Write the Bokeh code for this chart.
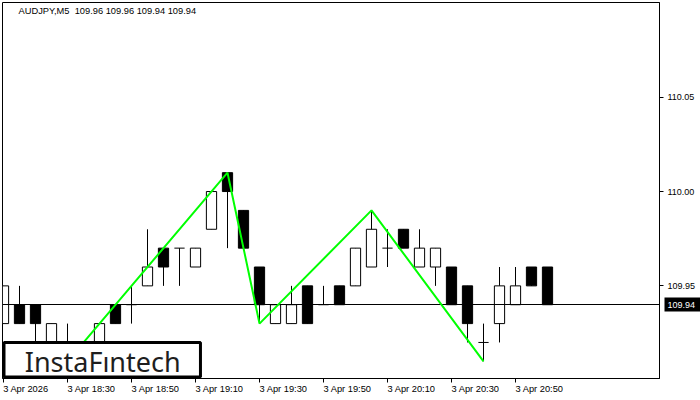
import numpy as np
from bokeh.plotting import figure
from bokeh.models import (Range1d, LinearAxis, FixedTicker, Label, BoxAnnotation,
                          PrintfTickFormatter, CustomJSTickFormatter)
from bokeh.embed import file_html
from bokeh.resources import INLINE

# ---------------- data ----------------
title_text = "AUDJPY,M5\u00a0 109.96 109.96 109.94 109.94"
times = ["18:10", "18:15", "18:20", "18:25", "18:30", "18:35", "18:40", "18:45", "18:50",
         "18:55", "19:00", "19:05", "19:10", "19:15", "19:20", "19:25", "19:30", "19:35",
         "19:40", "19:45", "19:50", "19:55", "20:00", "20:05", "20:10", "20:15", "20:20",
         "20:25", "20:30", "20:35", "20:40", "20:45", "20:50", "20:55", "21:00"]
opens = [109.93, 109.94, 109.94, 109.92, 109.92, 109.92, 109.92, 109.94, 109.94,
         109.95, 109.97, 109.97, 109.96, 109.98, 110.01, 109.99, 109.96, 109.93,
         109.93, 109.95, 109.94, 109.95, 109.95, 109.96, 109.97, 109.98, 109.96,
         109.96, 109.96, 109.95, 109.92, 109.93, 109.94, 109.96, 109.96]
highs = [109.95, 109.95, 109.94, 109.93, 109.93, 109.92, 109.93, 109.94, 109.95,
         109.98, 109.97, 109.97, 109.97, 110.00, 110.01, 109.99, 109.96, 109.94,
         109.95, 109.95, 109.95, 109.95, 109.97, 109.99, 109.98, 109.98, 109.98,
         109.97, 109.96, 109.95, 109.93, 109.96, 109.96, 109.96, 109.96]
lows = [109.93, 109.93, 109.92, 109.92, 109.91, 109.90, 109.91, 109.93, 109.93,
        109.95, 109.95, 109.95, 109.96, 109.98, 109.97, 109.97, 109.93, 109.93,
        109.93, 109.93, 109.94, 109.94, 109.95, 109.96, 109.96, 109.97, 109.96,
        109.95, 109.94, 109.92, 109.91, 109.92, 109.94, 109.95, 109.94]
closes = [109.95, 109.93, 109.93, 109.93, 109.92, 109.91, 109.93, 109.93, 109.94,
          109.96, 109.96, 109.97, 109.97, 110.00, 110.00, 109.97, 109.94, 109.94,
          109.94, 109.93, 109.94, 109.94, 109.97, 109.98, 109.97, 109.97, 109.97,
          109.97, 109.94, 109.93, 109.92, 109.95, 109.95, 109.95, 109.94]
xtick_times = ["18:10", "18:30", "18:50", "19:10", "19:30", "19:50", "20:10", "20:30", "20:50"]
xtick_labels = ["3 Apr 2026", "3 Apr 18:30", "3 Apr 18:50", "3 Apr 19:10", "3 Apr 19:30",
                "3 Apr 19:50", "3 Apr 20:10", "3 Apr 20:30", "3 Apr 20:50"]
ytick_values = [109.95, 110.00, 110.05]
pattern_times = ["18:30", "19:20", "19:30", "20:05", "20:40"]
pattern_prices = [109.91, 110.01, 109.93, 109.99, 109.91]
last_price = 109.94
logo_text = "InstaFıntech"

# ---------------- layout ----------------
W, H = 700, 400
BL, BR, BT, BB = 2, 41, 2, 22
frame_w = W - BL - BR
frame_h = H - BT - BB
x0, x1 = -0.0625, 41.0
y0, y1 = 109.9009, 110.1002
ppx = frame_w / (x1 - x0)
ppy = frame_h / (y1 - y0)

FONT = "Liberation Sans"

p = figure(width=W, height=H, x_range=Range1d(x0, x1), y_range=Range1d(y0, y1),
           output_backend="svg", toolbar_location=None,
           x_axis_location=None, y_axis_location=None,
           min_border_left=BL, min_border_right=BR, min_border_top=BT, min_border_bottom=BB)
p.title.visible = False
p.grid.visible = False
p.background_fill_color = "white"
p.border_fill_color = "white"
p.outline_line_color = "black"
p.outline_line_width = 1

# right price axis
yax = LinearAxis(ticker=FixedTicker(ticks=ytick_values),
                 formatter=PrintfTickFormatter(format="%.2f"))
yax.major_tick_out = 4
yax.major_tick_in = 0
yax.minor_tick_line_color = None
yax.axis_line_color = "black"
yax.major_label_standoff = 4
yax.axis_label_standoff = 0
yax.major_label_text_font = FONT
yax.major_label_text_font_size = "9px"
yax.major_label_text_color = "black"
p.add_layout(yax, "right")

# last-price tag: a second price axis whose single (thick, black) tick forms the box
tag = LinearAxis(ticker=FixedTicker(ticks=[last_price]),
                 formatter=PrintfTickFormatter(format="%.2f"))
tag.axis_line_color = None
tag.minor_tick_line_color = None
tag.major_tick_line_color = "black"
tag.major_tick_line_width = 14
tag.major_tick_in = 34
tag.major_tick_out = 2
tag.major_label_standoff = -33
tag.axis_label_standoff = 0
tag.major_label_text_font = FONT
tag.major_label_text_font_size = "9px"
tag.major_label_text_color = "white"
p.add_layout(tag, "right")

# time axis: tick marks at bar positions ...
idx = np.arange(len(times))
xtick_index = [times.index(t) for t in xtick_times]
xax = LinearAxis(ticker=FixedTicker(ticks=xtick_index),
                 formatter=CustomJSTickFormatter(code="return ''"))
xax.major_tick_out = 4
xax.major_tick_in = 0
xax.minor_tick_line_color = None
xax.axis_line_color = "black"
xax.major_label_standoff = 0
xax.axis_label_standoff = 0
xax.major_label_text_font_size = "1px"
p.add_layout(xax, "below")

# ... and labels that start at each tick (MT4 style, left aligned)
LABEL_SHIFT = [1.40 if lab.endswith("2026") else 1.50 for lab in xtick_labels]
lab_pos = [i + s for i, s in zip(xtick_index, LABEL_SHIFT)]
xlab = LinearAxis(ticker=FixedTicker(ticks=lab_pos))
xlab.major_label_overrides = {pos: lab for pos, lab in zip(lab_pos, xtick_labels)}
xlab.major_tick_out = 0
xlab.major_tick_in = 0
xlab.minor_tick_line_color = None
xlab.axis_line_color = None
xlab.major_label_standoff = 1
xlab.axis_label_standoff = 0
xlab.major_label_text_font = FONT
xlab.major_label_text_font_size = "9.3px"
xlab.major_label_text_color = "black"
p.add_layout(xlab, "below")

# candles
o = np.array(opens); c = np.array(closes); h = np.array(highs); l = np.array(lows)
p.segment(x0=idx, y0=l, x1=idx, y1=h, line_color="black", line_width=1)
bull = c > o
bear = c < o
doji = c == o
BW = 0.64
p.vbar(x=idx[bull], width=BW, bottom=o[bull], top=c[bull],
       fill_color="white", line_color="black", line_width=1)
p.vbar(x=idx[bear], width=BW, bottom=c[bear], top=o[bear],
       fill_color="black", line_color="black", line_width=1)
p.segment(x0=idx[doji] - BW / 2, y0=o[doji], x1=idx[doji] + BW / 2, y1=o[doji],
          line_color="black", line_width=1)

# last price line
p.hspan(y=[last_price], line_color="black", line_width=1)

# pattern line
px = [times.index(t) for t in pattern_times]
p.line(x=px, y=pattern_prices, line_color="#00ff00", line_width=2)

# title
p.add_layout(Label(x=x0 + 16 / ppx, y=y1 - 8 / ppy, text=title_text,
                   text_font=FONT, text_font_size="9.3px", text_color="black",
                   text_baseline="middle", text_align="left"))

# logo
p.add_layout(BoxAnnotation(left=x0 + 1.5 / ppx, right=12.31, top=109.92, bottom=y0 + 1.5 / ppy,
                           fill_color="white", fill_alpha=1.0,
                           line_color="black", line_alpha=1.0, line_width=3))
p.add_layout(Label(x=6.2, y=109.92 - 19 / ppy, text=logo_text,
                   text_font="Noto Sans", text_font_size="27px", text_color="#1e1e1e",
                   text_baseline="middle", text_align="center"))

open("out.html", "w").write(file_html(p, INLINE))
